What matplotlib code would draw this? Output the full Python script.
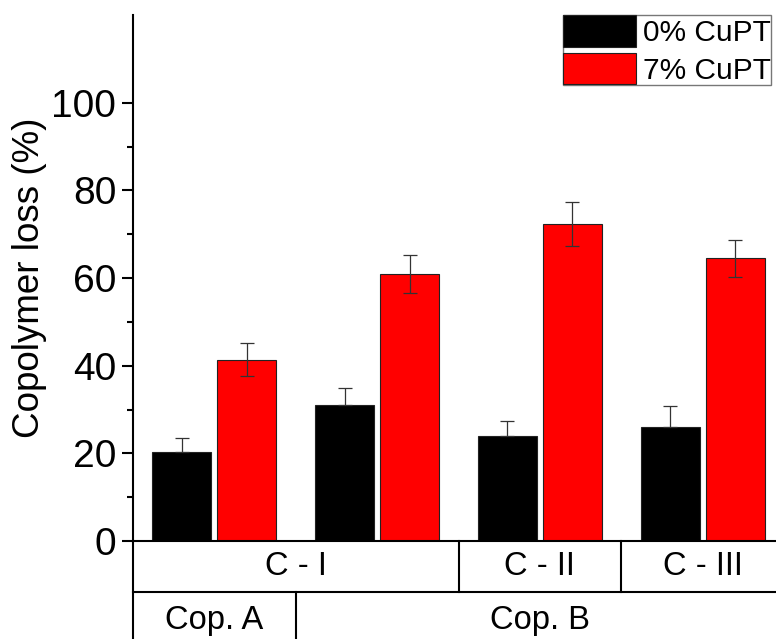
import matplotlib.pyplot as plt
import numpy as np

plt.rcParams['font.family'] = ['Liberation Sans', 'DejaVu Sans']

# data
groups = ["g1", "g2", "g3", "g4"]
loss_0 = [20.3, 31.0, 23.9, 26.1]
err_0 = [3.3, 3.8, 3.4, 4.6]
loss_7 = [41.4, 60.9, 72.3, 64.5]
err_7 = [3.8, 4.3, 5.0, 4.2]
row1_labels = ["C - I", "C - II", "C - III"]
row1_spans = [(0, 1), (2, 2), (3, 3)]
row2_labels = ["Cop. A", "Cop. B"]
row2_spans = [(0, 0), (1, 3)]
series_names = ["0% CuPT", "7% CuPT"]

W, H = 776, 639
fig = plt.figure(figsize=(W / 100, H / 100), dpi=100)
left, right, bottom, top = 133, 784, 541, 15
ax = fig.add_axes([left / W, (H - bottom) / H, (right - left) / W, (bottom - top) / H])

x = np.arange(len(groups))
bw = 0.363
off = 0.2
ekw = dict(ecolor="#333333", elinewidth=0.9, capsize=5, capthick=0.9)
# lower half of the black error bars is hidden by the bar itself
b0 = ax.bar(x - off, loss_0, bw, yerr=[np.zeros(len(err_0)), err_0], color="black",
            edgecolor="#222222", linewidth=0.8, error_kw=ekw, label=series_names[0])
b1 = ax.bar(x + off, loss_7, bw, yerr=err_7, color="#ff0000", edgecolor="#222222",
            linewidth=0.8, error_kw=ekw, label=series_names[1])

ax.set_xlim(-0.5, 3.5)
ax.set_ylim(0, 120)
ax.set_yticks([0, 20, 40, 60, 80, 100])
ax.set_yticks(np.arange(10, 100, 20), minor=True)
ax.tick_params(axis="y", which="major", length=8, width=1.5, labelsize=28, pad=4)
ax.tick_params(axis="y", which="minor", length=4.5, width=1.5)
ax.set_xticks([])
for s in ["top", "right"]:
    ax.spines[s].set_visible(False)
ax.spines["left"].set_linewidth(1.5)
ax.spines["bottom"].set_linewidth(1.5)
ax.set_ylabel("Copolymer loss (%)", fontsize=26.5, labelpad=3)

# category table below the axis
tr = ax.get_xaxis_transform()
row_h = 51 / (bottom - top)
lw = 1.5
ax.plot([-0.5, 3.5], [-row_h, -row_h], transform=tr, color="black", lw=lw, clip_on=False)
ax.plot([-0.5, -0.5], [0, -(H - bottom) / (bottom - top)], transform=tr, color="black",
        lw=lw, clip_on=False)
for lab, (a, b) in zip(row1_labels, row1_spans):
    ax.text((a + b) / 2, -row_h / 2, lab, transform=tr, ha="center", va="center",
            fontsize=23.5)
    if a > 0:
        ax.plot([a - 0.5, a - 0.5], [0, -row_h], transform=tr, color="black", lw=lw,
                clip_on=False)
for lab, (a, b) in zip(row2_labels, row2_spans):
    ax.text((a + b) / 2, -row_h * 1.55, lab, transform=tr, ha="center", va="center",
            fontsize=23.5)
    if a > 0:
        ax.plot([a - 0.5, a - 0.5], [-row_h, -row_h * 3], transform=tr, color="black",
                lw=lw, clip_on=False)

leg = ax.legend(loc="upper right", bbox_to_anchor=((771 - left) / (right - left), 1.0),
                borderaxespad=0, fontsize=21.5, frameon=True, fancybox=False,
                borderpad=0, handlelength=2.45, handleheight=1.25, handletextpad=0.25,
                labelspacing=0.2)
leg.get_frame().set_edgecolor("#555555")
leg.get_frame().set_linewidth(1.0)

fig.savefig("out.png", dpi=100)
